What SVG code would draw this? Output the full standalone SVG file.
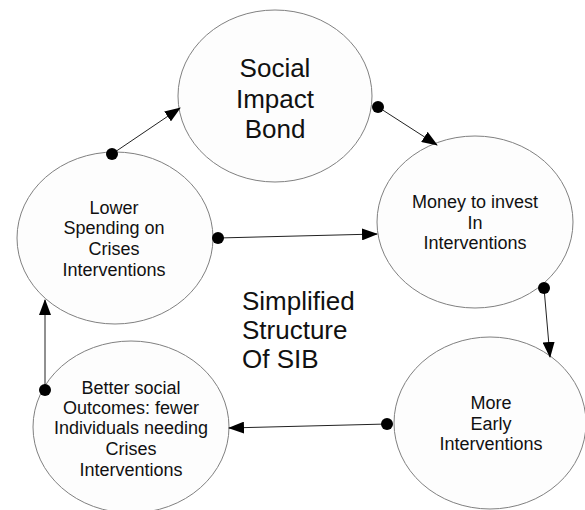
<svg xmlns="http://www.w3.org/2000/svg" width="585" height="510" viewBox="0 0 585 510">
<defs>
<marker id="arr" markerWidth="16" markerHeight="12" refX="15" refY="6" orient="auto" markerUnits="userSpaceOnUse">
<path d="M0,0 L16,6 L0,12 Z" fill="#000"/>
</marker>
<marker id="dot" markerWidth="14" markerHeight="14" refX="7" refY="7" markerUnits="userSpaceOnUse">
<circle cx="7" cy="7" r="6" fill="#000"/>
</marker>
</defs>
<style>
.n{fill:#fdfdfd;stroke:#808080;stroke-width:1}
.t{font-family:"Liberation Sans",Arial,sans-serif;fill:#111;text-anchor:middle}
.s{font-size:18px}
.b{font-size:26px}
.c{stroke:#222;stroke-width:1;fill:none;marker-start:url(#dot);marker-end:url(#arr)}
</style>
<rect width="585" height="510" fill="#fff"/>
<g id="sib">
<ellipse class="n" cx="275" cy="96" rx="97" ry="86"/>
<text class="t b" x="275" y="77">Social</text>
<text class="t b" x="275" y="108">Impact</text>
<text class="t b" x="275" y="138">Bond</text>
</g>
<g id="money">
<ellipse class="n" cx="475" cy="222" rx="98" ry="86"/>
<text class="t s" x="475" y="208">Money to invest</text>
<text class="t s" x="475" y="229">In</text>
<text class="t s" x="475" y="249">Interventions</text>
</g>
<g id="lower">
<ellipse class="n" cx="115" cy="238" rx="98" ry="86"/>
<text class="t s" x="114" y="214">Lower</text>
<text class="t s" x="114" y="234">Spending on</text>
<text class="t s" x="114" y="255">Crises</text>
<text class="t s" x="114" y="276">Interventions</text>
</g>
<g id="better">
<ellipse class="n" cx="131" cy="427" rx="98" ry="86"/>
<text class="t s" x="131" y="394">Better social</text>
<text class="t s" x="131" y="414">Outcomes: fewer</text>
<text class="t s" x="131" y="434">Individuals needing</text>
<text class="t s" x="131" y="455">Crises</text>
<text class="t s" x="131" y="476">Interventions</text>
</g>
<g id="early">
<ellipse class="n" cx="490" cy="423" rx="96" ry="86"/>
<text class="t s" x="491" y="409">More</text>
<text class="t s" x="491" y="430">Early</text>
<text class="t s" x="491" y="450">Interventions</text>
</g>
<g id="title">
<text class="t b" style="text-anchor:start" x="242" y="310">Simplified</text>
<text class="t b" style="text-anchor:start" x="242" y="339">Structure</text>
<text class="t b" style="text-anchor:start" x="242" y="368">Of SIB</text>
</g>
<g id="connectors">
<line class="c" x1="112" y1="154" x2="180" y2="108"/>
<line class="c" x1="378" y1="107" x2="437" y2="145"/>
<line class="c" x1="218" y1="238" x2="377" y2="234"/>
<line class="c" x1="544" y1="288" x2="550" y2="357"/>
<line class="c" x1="387" y1="424" x2="229" y2="428"/>
<line class="c" x1="45" y1="390" x2="45" y2="300"/>
</g>
</svg>
